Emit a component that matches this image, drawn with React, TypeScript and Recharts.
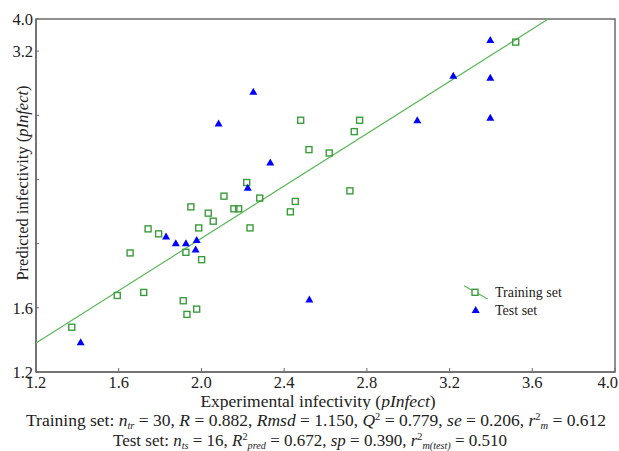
import React from "react";
import { ScatterChart, Scatter, XAxis, YAxis, ReferenceArea } from "recharts";

// training set (open green squares)
const trainX = [
  1.373, 1.593, 1.721, 1.655, 1.742, 1.793, 1.912, 1.93, 1.977, 1.925,
  2.001, 1.949, 1.987, 2.033, 2.057, 2.109, 2.157, 2.18, 2.219, 2.235,
  2.282, 2.43, 2.454, 2.48, 2.52, 2.765, 2.739, 2.618, 2.718, 3.52,
];
const trainY = [
  1.479, 1.677, 1.696, 1.942, 2.092, 2.061, 1.644, 1.559, 1.592, 1.946,
  1.9, 2.229, 2.098, 2.19, 2.14, 2.296, 2.217, 2.217, 2.381, 2.098,
  2.284, 2.198, 2.263, 2.769, 2.586, 2.769, 2.698, 2.565, 2.329, 3.256,
];

// test set (blue triangles)
const testX = [
  1.416, 1.829, 1.876, 1.925, 1.977, 1.972, 2.224, 2.522,
  2.083, 2.251, 2.333, 3.044, 3.218, 3.397, 3.397, 3.397,
];
const testY = [
  1.386, 2.044, 2.002, 2.002, 2.023, 1.963, 2.348, 1.652,
  2.748, 2.946, 2.506, 2.769, 3.046, 3.269, 3.034, 2.784,
];

// fitted line of the training set
const fitX = [1.2, 3.677];
const fitY = [1.381, 3.4];

const xTicks = [1.2, 1.6, 2.0, 2.4, 2.8, 3.2, 3.6, 4.0];
const xTickLabels = ["1.2", "1.6", "2.0", "2.4", "2.8", "3.2", "3.6", "4.0"];
const yTicks = [1.2, 1.6, 2.0, 2.4, 2.8, 3.2, 3.4];
const yTickLabels = ["1.2", "1.6", "", "", "", "3.2", "4.0"];

const train = trainX.map((x, i) => ({ x, y: trainY[i] }));
const test = testX.map((x, i) => ({ x, y: testY[i] }));
const fit = fitX.map((x, i) => ({ x, y: fitY[i] }));

const GREEN = "#3a9c3a";
const LINE = "#5cb85c";
const BLUE = "#0000ff";
const FRAME = "#6b6b6b";
const TEXT = "#222";
const FONT = '"Liberation Serif", "Times New Roman", serif';

const Square = (p: any) => (
  <rect x={p.cx - 3} y={p.cy - 3} width={6} height={6} fill="none" stroke={GREEN} strokeWidth={1.4} />
);

const Triangle = (p: any) => (
  <polygon points={`${p.cx},${p.cy - 4} ${p.cx + 4},${p.cy + 3} ${p.cx - 4},${p.cy + 3}`} fill={BLUE} />
);

// last x label sits flush with the right edge, like the original
const XTick = (p: any) => {
  const v = p.payload.value;
  const last = v === xTicks[xTicks.length - 1];
  return (
    <text
      x={last ? 618 : p.x}
      y={p.y}
      dy="0.71em"
      textAnchor={last ? "end" : "middle"}
      fontSize={16.5}
      fill={TEXT}
      fontFamily={FONT}
    >
      {xTickLabels[xTicks.indexOf(v)] ?? ""}
    </text>
  );
};

const subStyle: React.CSSProperties = { fontSize: "0.6em", verticalAlign: "-0.3em", lineHeight: 0, fontStyle: "italic" };
const supStyle: React.CSSProperties = { fontSize: "0.6em", verticalAlign: "0.55em", lineHeight: 0 };

export default function App() {
  return (
    <div style={{ position: "absolute", left: 0, top: 0, width: 619, height: 451, background: "#fff", fontFamily: FONT }}>
      <ScatterChart width={619} height={410} margin={{ top: 19, right: 4, left: 0, bottom: 0 }} style={{ fontFamily: FONT }}>
        <XAxis
          type="number"
          dataKey="x"
          domain={[1.2, 4.0]}
          ticks={xTicks}
          interval={0}
          height={38}
          tickSize={-4}
          tickMargin={8}
          tick={XTick}
          tickLine={{ stroke: FRAME }}
          axisLine={{ stroke: FRAME, strokeWidth: 1.5 }}
          label={{
            content: () => (
              <text x={318} y={407} textAnchor="middle" fontSize={17.5} fill={TEXT} fontFamily={FONT}>
                Experimental infectivity (<tspan fontStyle="italic">pInfect</tspan>)
              </text>
            ),
          }}
        />
        <YAxis
          type="number"
          dataKey="y"
          domain={[1.2, 3.4]}
          ticks={yTicks}
          interval={0}
          tickFormatter={(v) => yTickLabels[yTicks.indexOf(v)] ?? ""}
          width={36}
          tickSize={-3}
          tickMargin={6}
          tick={{ fill: TEXT, fontSize: 16.5, fontFamily: FONT }}
          tickLine={{ stroke: FRAME }}
          axisLine={{ stroke: FRAME, strokeWidth: 1.5 }}
          label={{
            content: () => (
              <text
                x={22}
                y={183}
                transform="rotate(-90 22 183)"
                textAnchor="middle"
                dominantBaseline="central"
                fontSize={16.5}
                fill={TEXT}
                fontFamily={FONT}
              >
                Predicted infectivity (<tspan fontStyle="italic">pInfect</tspan>)
              </text>
            ),
          }}
        />
        <ReferenceArea x1={1.2} x2={4.0} y1={1.2} y2={3.4} fill="none" stroke={FRAME} strokeWidth={1.5} />
        <Scatter data={fit} line={{ stroke: LINE, strokeWidth: 1.2 }} shape={() => <g />} isAnimationActive={false} />
        <Scatter data={train} shape={Square} isAnimationActive={false} />
        <Scatter data={test} shape={Triangle} isAnimationActive={false} />
      </ScatterChart>

      <svg width={619} height={451} style={{ position: "absolute", left: 0, top: 0, pointerEvents: "none" }}>
        <line x1={464} y1={285.7} x2={487.7} y2={299} stroke={LINE} strokeWidth={1.2} />
        <rect x={472} y={289.3} width={6} height={6} fill="#fff" stroke={GREEN} strokeWidth={1.4} />
        <polygon points="475.7,306 479.7,313 471.7,313" fill={BLUE} />
        <text x={495} y={292} dominantBaseline="central" fontSize={14} fill={TEXT} fontFamily={FONT}>
          Training set
        </text>
        <text x={495} y={310} dominantBaseline="central" fontSize={14} fill={TEXT} fontFamily={FONT}>
          Test set
        </text>
      </svg>

      <div style={{ position: "absolute", left: 26, top: 411, fontSize: 17.5, lineHeight: "18px", whiteSpace: "nowrap", color: TEXT }}>
        Training set: <i>n</i><span style={subStyle}>tr</span> = 30, <i>R</i> = 0.882, <i>Rmsd</i> = 1.150,{" "}
        <i>Q</i><span style={supStyle}>2</span> = 0.779, <i>se</i> = 0.206, <i>r</i><span style={supStyle}>2</span>
        <span style={subStyle}>m</span> = 0.612
      </div>
      <div style={{ position: "absolute", left: 113, top: 432, fontSize: 17, lineHeight: "18px", whiteSpace: "nowrap", color: TEXT }}>
        Test set: <i>n</i><span style={subStyle}>ts</span> = 16, <i>R</i><span style={supStyle}>2</span>
        <span style={subStyle}>pred</span> = 0.672, <i>sp</i> = 0.390, <i>r</i><span style={supStyle}>2</span>
        <span style={subStyle}>m(test)</span> = 0.510
      </div>
    </div>
  );
}
